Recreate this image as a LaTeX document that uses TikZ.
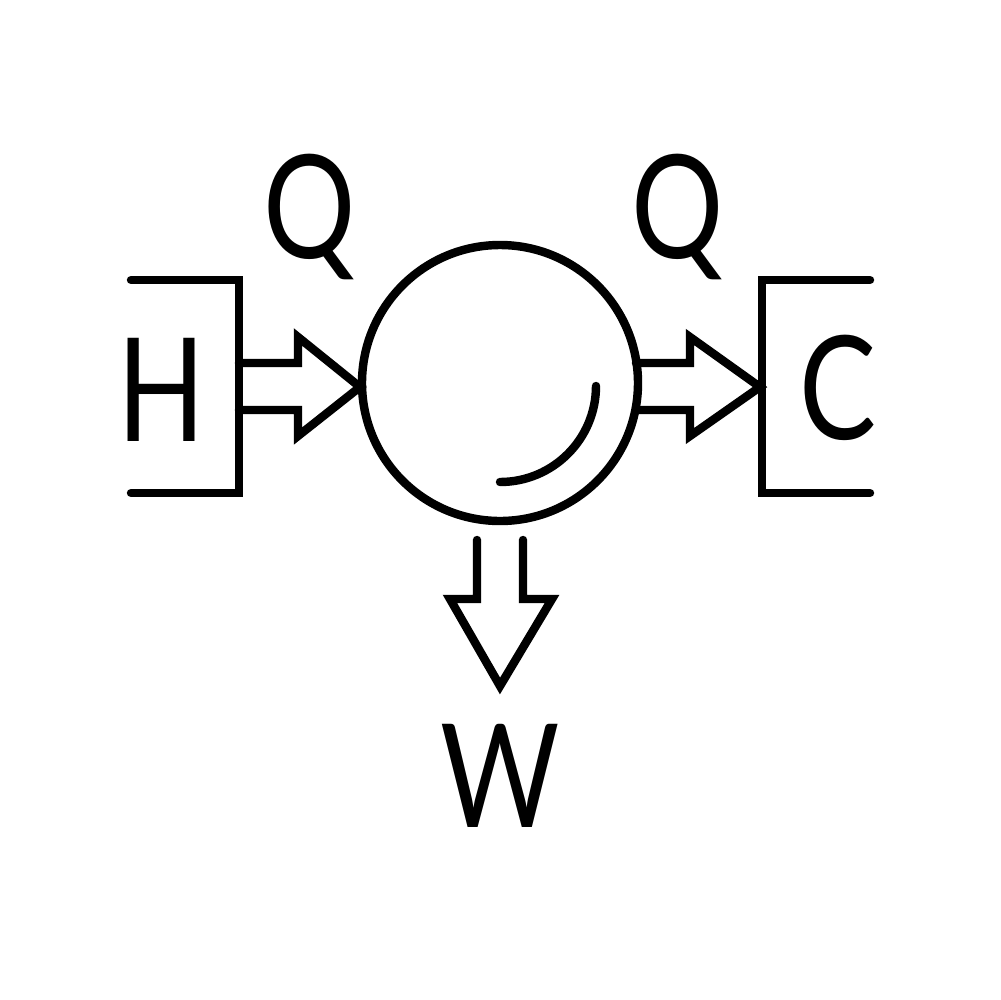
\documentclass[tikz,border=0pt]{standalone}
\usepackage{fontspec}
\newfontfamily\iconfont{Lato}[FakeStretch=0.8]
\begin{document}
\tikzset{
  icon/.style={line width=2.4pt, line cap=round, line join=miter},
  letter/.style={inner sep=0pt, anchor=base, font=\iconfont\fontsize{41}{41}\selectfont},
}
\begin{tikzpicture}[x=0.1mm,y=-0.1mm]
\useasboundingbox[fill=white] (0,0) rectangle (1000,1000);
% engine circle
\node[draw, circle, line width=2.4pt, minimum size=27.6mm, inner sep=0pt] (engine) at (500,383) {};
\draw[icon] (596,386) arc[start angle=0, end angle=90, radius=96];
% reservoir brackets
\coordinate (hotwall) at (239,387);
\coordinate (coldwall) at (762,387);
\draw[icon] (131,280) -- (239,280) -- (239,493) -- (131,493);
\draw[icon] (870,280) -- (762,280) -- (762,493) -- (870,493);
% letters
\node[letter] (H) at (162,441) {H};
\node[letter] (Q1) at (310,258) {Q};
\node[letter] (Q2) at (678,258) {Q};
\node[letter] (C) at (838,439) {C};
\node[letter] (W) at (500,827) {W};
% arrows
\draw[icon] (239,363) -- (298,363) -- (298,337) -- (360,387) -- (298,436) -- (298,410) -- (239,410);
\draw[icon] (636,363) -- (690,363) -- (690,337) -- (760,387) -- (690,436) -- (690,410) -- (636,410);
\draw[icon] (477,540) -- (477,599) -- (450,599) -- (500,686) -- (552,599) -- (523,599) -- (523,540);
\end{tikzpicture}
\end{document}
